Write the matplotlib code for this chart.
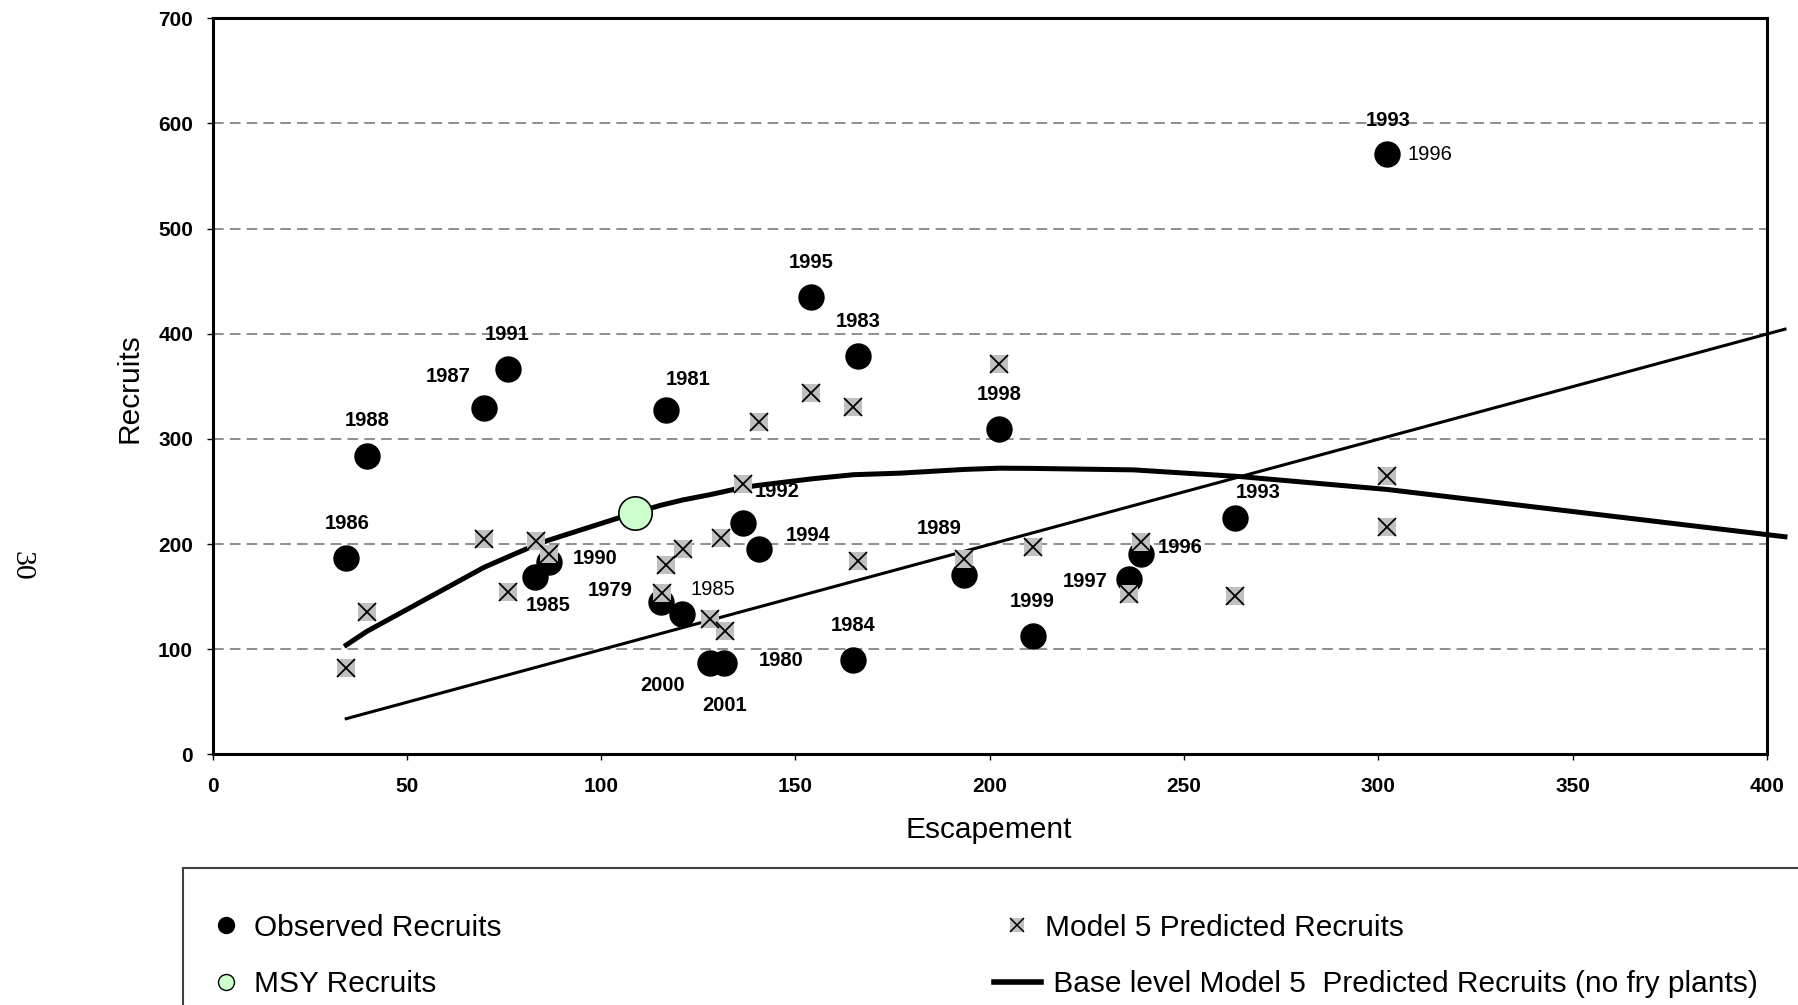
import matplotlib
matplotlib.use("Agg")
import matplotlib.pyplot as plt
from matplotlib.lines import Line2D
from matplotlib.patches import Rectangle

plt.rcParams['font.family'] = ['Liberation Sans', 'DejaVu Sans']

# observed recruits
obs_x = [34.4, 39.7, 69.9, 76.1, 83.0, 86.7, 115.4, 116.7, 120.9, 128.1, 131.7, 136.6,
         140.7, 154.0, 164.9, 166.1, 193.3, 202.4, 211.0, 235.9, 238.9, 263.0, 302.2]
obs_y = [187.2, 284.2, 329.3, 366.4, 169.1, 183.4, 145.3, 327.7, 133.6, 87.3, 87.3, 219.9,
         195.1, 434.9, 89.9, 379.0, 170.7, 309.6, 113.0, 166.9, 190.4, 225.2, 570.6]

# model 5 predicted recruits
pred_x = [34.4, 39.7, 69.9, 76.1, 83.3, 86.7, 115.6, 116.6, 121.0, 127.9, 130.8, 131.9, 136.6,
          140.7, 154.0, 164.9, 166.1, 193.3, 202.4, 211.0, 235.9, 238.9, 263.0, 302.2, 302.2]
pred_y = [82.6, 135.9, 204.7, 154.9, 203.1, 190.7, 153.9, 180.2, 195.1, 129.2, 205.6, 117.7, 257.3,
          316.0, 343.5, 330.2, 184.0, 185.9, 371.1, 197.1, 152.7, 202.4, 150.8, 264.9, 216.7]

# base level curve (no fry plants)
base_x = [34.4, 39.7, 69.9, 76.1, 83.0, 86.7, 108.8, 115.4, 121.0, 128.0, 131.7, 136.6, 140.7,
          154.0, 164.9, 177.0, 193.3, 202.4, 211.0, 237.0, 264.5, 302.2, 404.6]
base_y = [104, 117, 178, 188, 199, 204, 230, 237, 242, 247, 250, 254, 256,
          262, 266, 267.5, 271, 272.2, 272, 270.6, 264.2, 252, 207]

# replacement line
repl_x = [34.4, 404.6]
repl_y = [34.0, 404.4]

msy_x = [108.8]
msy_y = [230.0]

# year labels: (text, index of observed point, bold)
year_labels = [("1986", 0, True), ("1988", 1, True), ("1987", 2, True), ("1991", 3, True),
               ("1985", 4, True), ("1990", 5, True), ("1979", 6, True), ("1981", 7, True),
               ("1985", 8, False), ("2000", 9, True), ("2001", 10, True), ("1980", 10, True),
               ("1992", 11, True), ("1994", 12, True), ("1995", 13, True), ("1984", 14, True),
               ("1983", 15, True), ("1989", 16, True), ("1998", 17, True), ("1999", 18, True),
               ("1997", 19, True), ("1996", 20, True), ("1993", 21, True), ("1993", 22, True),
               ("1996", 22, False)]
label_offsets = [(0.5, 24.8), (0, 25.2), (-25.7, 22.8), (-0.7, 25.2), (9.1, -21.1), (32.9, 1.9),
                 (-36.7, 7.7), (15.6, 21.6), (21.9, 17.3), (-34.3, -16.6), (0, -30.5), (40.8, 1.2),
                 (24, 22.8), (35.3, 9.6), (0, 24.8), (0, 24.5), (0, 24.7), (-17.5, 33.1),
                 (0, 24.8), (0, 24.5), (-31.7, -1.9), (28.3, 5), (16.8, 18.3), (0.6, 24.3),
                 (30.7, -0.4)]

fig = plt.figure(figsize=(17.98, 10.05), dpi=100)
ax = fig.add_axes([0.1182, 0.2493, 0.8646, 0.7325])

ax.set_xlim(0, 400)
ax.set_ylim(0, 700)
ax.set_xticks(range(0, 401, 50))
ax.set_yticks(range(0, 701, 100))

for v in range(100, 700, 100):
    ax.axhline(v, color='#707070', lw=1.1, dashes=(7, 4), zorder=1)

ax.plot(repl_x, repl_y, color='black', lw=2.2, zorder=3, clip_on=False)
ax.plot(base_x, base_y, color='black', lw=3.6, zorder=3, clip_on=False)

ax.plot(obs_x, obs_y, 'o', color='black', ms=18, zorder=4)
ax.plot(pred_x, pred_y, 's', color='#c0c0c0', ms=13, mew=0, zorder=5)
ax.plot(pred_x, pred_y, 'x', color='black', ms=13, mew=1.3, zorder=6)
ax.plot(msy_x, msy_y, 'o', mfc='#ccffcc', mec='black', mew=1.2, ms=24, zorder=7)

for (txt, i, bold), (dx, dy) in zip(year_labels, label_offsets):
    ax.annotate(txt, (obs_x[i], obs_y[i]), xytext=(dx, dy), textcoords='offset points',
                ha='center', va='center', fontsize=14.5,
                fontweight='bold' if bold else 'normal', zorder=2)

for s in ax.spines.values():
    s.set_linewidth(2.2)
ax.tick_params(axis='x', length=4, width=1, pad=12, labelsize=15)
ax.tick_params(axis='y', length=4, width=1, pad=10, labelsize=15)
for t in ax.get_xticklabels() + ax.get_yticklabels():
    t.set_fontweight('bold')

ax.set_xlabel('Escapement', fontsize=21.5, va='center')
ax.xaxis.set_label_coords(0.4992, -0.1026)
ax.set_ylabel('Recruits', fontsize=21.5, va='center')
ax.yaxis.set_label_coords(-0.0533, 0.498)

fig.text(0.0117, 0.4368, '30', rotation=-90, fontsize=21.5, family='Liberation Serif',
         ha='center', va='center')

# legend
fig.patches.append(Rectangle((0.1018, -0.05), 0.95, 0.1863, transform=fig.transFigure,
                             fill=False, edgecolor='#404040', lw=1.5))
h_obs = Line2D([], [], ls='none', marker='o', color='black', ms=11.5)
h_msy = Line2D([], [], ls='none', marker='o', mfc='#ccffcc', mec='black', mew=1, ms=11.5)
h_sq = Line2D([], [], ls='none', marker='s', color='#c0c0c0', mew=0, ms=10)
h_x = Line2D([], [], ls='none', marker='x', color='black', mew=1.1, ms=10)
h_base = Line2D([], [], color='black', lw=4)
fig.legend([h_obs, h_msy, (h_sq, h_x), h_base],
           ['Observed Recruits', 'MSY Recruits', 'Model 5 Predicted Recruits',
            ' Base level Model 5  Predicted Recruits (no fry plants)'],
           ncol=2, loc='upper left', bbox_to_anchor=(0.1126, 0.0906), frameon=False,
           fontsize=21.5, handlelength=1.57, handletextpad=0.15, columnspacing=16.5,
           labelspacing=0.94, borderpad=0, borderaxespad=0)

fig.savefig('out.png', dpi=100)
